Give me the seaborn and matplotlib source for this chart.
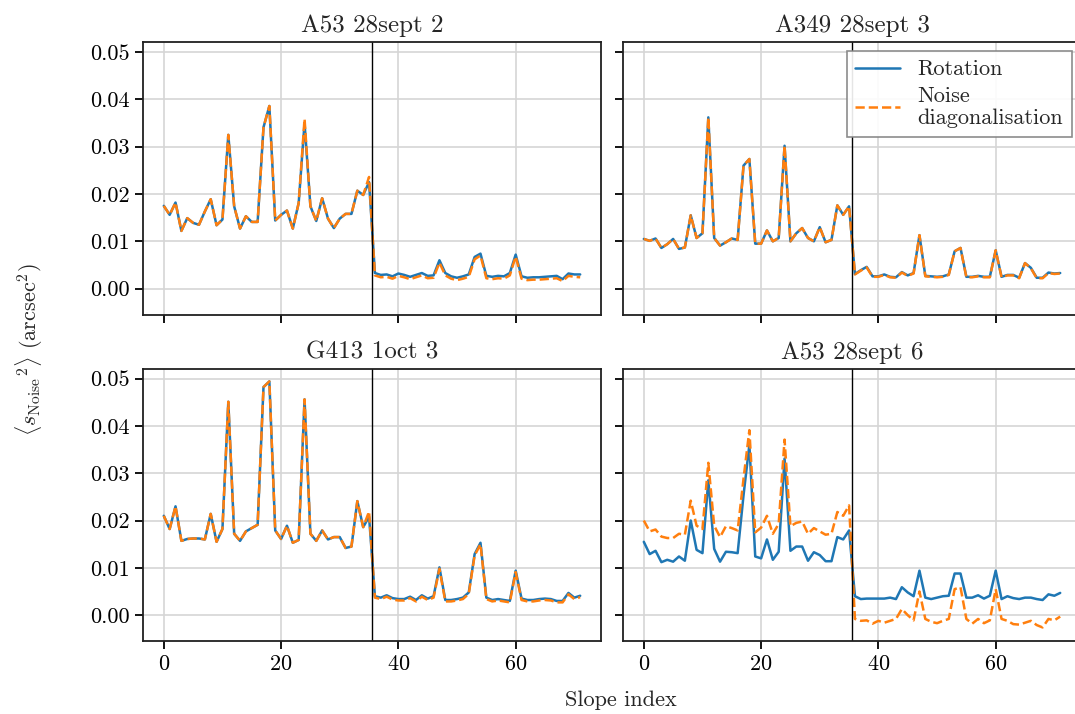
import numpy as np
import pandas as pd
import matplotlib
matplotlib.use("Agg")
import matplotlib.pyplot as plt
import seaborn as sns

# slope index 0..71
SLOPE_INDEX = list(range(72))
SPLIT_AT = 35.5

TITLES = ["A53 28sept 2", "A349 28sept 3", "G413 1oct 3", "A53 28sept 6"]
SERIES_LABELS = ["Rotation", "Noise\ndiagonalisation"]

a53_2_rotation = [
    0.0175, 0.0156, 0.0182, 0.0122, 0.0149, 0.0139, 0.0135, 0.0163, 0.0189, 0.0134,
    0.0146, 0.0325, 0.0174, 0.0127, 0.0153, 0.0141, 0.0141, 0.0341, 0.0386, 0.0144,
    0.0156, 0.0165, 0.0127, 0.0181, 0.0350, 0.0174, 0.0143, 0.0191, 0.0148, 0.0128,
    0.0148, 0.0158, 0.0158, 0.0207, 0.0198, 0.0225, 0.0033, 0.0029, 0.0030, 0.0026,
    0.0032, 0.0029, 0.0025, 0.0029, 0.0033, 0.0027, 0.0028, 0.0060, 0.0033, 0.0026,
    0.0023, 0.0026, 0.0030, 0.0067, 0.0074, 0.0027, 0.0025, 0.0027, 0.0026, 0.0033,
    0.0072, 0.0026, 0.0023, 0.0024, 0.0024, 0.0025, 0.0026, 0.0027, 0.0020, 0.0032,
    0.0030, 0.0030,
]
a53_2_noise_diag = [
    0.0175, 0.0156, 0.0182, 0.0122, 0.0149, 0.0139, 0.0135, 0.0163, 0.0189, 0.0134,
    0.0146, 0.0325, 0.0174, 0.0127, 0.0153, 0.0141, 0.0141, 0.0341, 0.0386, 0.0144,
    0.0156, 0.0165, 0.0127, 0.0181, 0.0359, 0.0174, 0.0143, 0.0191, 0.0148, 0.0128,
    0.0148, 0.0158, 0.0158, 0.0207, 0.0198, 0.0236, 0.0028, 0.0024, 0.0025, 0.0021,
    0.0027, 0.0024, 0.0020, 0.0024, 0.0028, 0.0022, 0.0023, 0.0055, 0.0028, 0.0021,
    0.0018, 0.0021, 0.0025, 0.0062, 0.0070, 0.0022, 0.0020, 0.0022, 0.0021, 0.0028,
    0.0068, 0.0021, 0.0018, 0.0019, 0.0019, 0.0020, 0.0021, 0.0022, 0.0016, 0.0027,
    0.0025, 0.0024,
]

a349_3_rotation = [
    0.0105, 0.0101, 0.0106, 0.0086, 0.0094, 0.0105, 0.0084, 0.0087, 0.0155, 0.0107,
    0.0117, 0.0362, 0.0107, 0.0091, 0.0098, 0.0106, 0.0103, 0.0260, 0.0274, 0.0095,
    0.0095, 0.0123, 0.0100, 0.0107, 0.0302, 0.0100, 0.0117, 0.0128, 0.0107, 0.0100,
    0.0130, 0.0098, 0.0103, 0.0176, 0.0156, 0.0174, 0.0031, 0.0039, 0.0046, 0.0026,
    0.0026, 0.0030, 0.0025, 0.0024, 0.0035, 0.0028, 0.0033, 0.0113, 0.0027, 0.0026,
    0.0025, 0.0026, 0.0030, 0.0079, 0.0086, 0.0025, 0.0025, 0.0027, 0.0025, 0.0025,
    0.0081, 0.0025, 0.0029, 0.0029, 0.0023, 0.0054, 0.0044, 0.0023, 0.0023, 0.0034,
    0.0032, 0.0033,
]
a349_3_noise_diag = [
    0.0105, 0.0101, 0.0106, 0.0086, 0.0094, 0.0105, 0.0084, 0.0087, 0.0155, 0.0107,
    0.0117, 0.0362, 0.0107, 0.0091, 0.0098, 0.0106, 0.0103, 0.0260, 0.0274, 0.0095,
    0.0095, 0.0123, 0.0100, 0.0107, 0.0302, 0.0100, 0.0117, 0.0128, 0.0107, 0.0100,
    0.0130, 0.0098, 0.0103, 0.0176, 0.0156, 0.0174, 0.0030, 0.0038, 0.0045, 0.0025,
    0.0025, 0.0029, 0.0024, 0.0023, 0.0034, 0.0027, 0.0032, 0.0113, 0.0026, 0.0025,
    0.0024, 0.0025, 0.0029, 0.0079, 0.0086, 0.0024, 0.0024, 0.0026, 0.0024, 0.0024,
    0.0081, 0.0024, 0.0028, 0.0028, 0.0022, 0.0054, 0.0043, 0.0022, 0.0022, 0.0033,
    0.0031, 0.0032,
]

g413_3_rotation = [
    0.0210, 0.0182, 0.0230, 0.0157, 0.0161, 0.0162, 0.0162, 0.0160, 0.0214, 0.0155,
    0.0182, 0.0451, 0.0172, 0.0157, 0.0177, 0.0184, 0.0191, 0.0482, 0.0494, 0.0179,
    0.0161, 0.0189, 0.0153, 0.0159, 0.0456, 0.0172, 0.0157, 0.0179, 0.0160, 0.0165,
    0.0165, 0.0142, 0.0145, 0.0241, 0.0186, 0.0208, 0.0040, 0.0037, 0.0042, 0.0036,
    0.0034, 0.0034, 0.0039, 0.0032, 0.0042, 0.0035, 0.0040, 0.0101, 0.0032, 0.0032,
    0.0034, 0.0037, 0.0048, 0.0129, 0.0153, 0.0037, 0.0032, 0.0034, 0.0032, 0.0030,
    0.0094, 0.0035, 0.0032, 0.0032, 0.0034, 0.0035, 0.0034, 0.0030, 0.0030, 0.0047,
    0.0037, 0.0041,
]
g413_3_noise_diag = [
    0.0210, 0.0182, 0.0230, 0.0157, 0.0161, 0.0162, 0.0162, 0.0160, 0.0214, 0.0155,
    0.0182, 0.0451, 0.0172, 0.0157, 0.0177, 0.0184, 0.0191, 0.0482, 0.0494, 0.0179,
    0.0161, 0.0189, 0.0153, 0.0159, 0.0456, 0.0172, 0.0157, 0.0179, 0.0160, 0.0165,
    0.0165, 0.0142, 0.0145, 0.0241, 0.0186, 0.0219, 0.0037, 0.0034, 0.0039, 0.0033,
    0.0031, 0.0031, 0.0036, 0.0029, 0.0039, 0.0032, 0.0037, 0.0098, 0.0029, 0.0029,
    0.0031, 0.0034, 0.0045, 0.0126, 0.0150, 0.0034, 0.0029, 0.0031, 0.0029, 0.0027,
    0.0091, 0.0032, 0.0029, 0.0029, 0.0031, 0.0032, 0.0031, 0.0027, 0.0027, 0.0044,
    0.0034, 0.0038,
]

a53_6_rotation = [
    0.0155, 0.0129, 0.0136, 0.0112, 0.0117, 0.0113, 0.0124, 0.0115, 0.0200, 0.0138,
    0.0131, 0.0285, 0.0140, 0.0113, 0.0134, 0.0133, 0.0131, 0.0253, 0.0360, 0.0124,
    0.0120, 0.0160, 0.0117, 0.0134, 0.0331, 0.0136, 0.0145, 0.0145, 0.0115, 0.0133,
    0.0127, 0.0114, 0.0114, 0.0165, 0.0160, 0.0179, 0.0040, 0.0034, 0.0035, 0.0035,
    0.0035, 0.0035, 0.0037, 0.0034, 0.0059, 0.0048, 0.0040, 0.0094, 0.0037, 0.0034,
    0.0037, 0.0040, 0.0041, 0.0088, 0.0088, 0.0037, 0.0037, 0.0042, 0.0035, 0.0041,
    0.0094, 0.0034, 0.0040, 0.0036, 0.0034, 0.0037, 0.0037, 0.0034, 0.0032, 0.0044,
    0.0041, 0.0047,
]
a53_6_noise_diag = [
    0.0200, 0.0177, 0.0181, 0.0166, 0.0163, 0.0163, 0.0172, 0.0170, 0.0242, 0.0189,
    0.0182, 0.0322, 0.0189, 0.0165, 0.0188, 0.0184, 0.0179, 0.0288, 0.0391, 0.0175,
    0.0185, 0.0210, 0.0172, 0.0193, 0.0371, 0.0188, 0.0195, 0.0198, 0.0172, 0.0184,
    0.0177, 0.0170, 0.0172, 0.0218, 0.0210, 0.0232, -0.0008, -0.0012, -0.0011, -0.0018,
    -0.0012, -0.0016, -0.0012, -0.0008, 0.0013, 0.0000, -0.0011, 0.0050, -0.0008, -0.0014,
    -0.0017, -0.0012, -0.0008, 0.0055, 0.0059, -0.0008, -0.0018, -0.0008, -0.0017, -0.0011,
    0.0055, -0.0008, -0.0012, -0.0019, -0.0020, -0.0016, -0.0012, -0.0021, -0.0026, -0.0008,
    -0.0011, -0.0003,
]

PANELS = [
    (a53_2_rotation, a53_2_noise_diag),
    (a349_3_rotation, a349_3_noise_diag),
    (g413_3_rotation, g413_3_noise_diag),
    (a53_6_rotation, a53_6_noise_diag),
]

sns.set_theme(style="ticks", context="notebook")
plt.rcParams.update({
    "font.family": "serif",
    "font.serif": ["cmr10"],
    "mathtext.fontset": "cm",
    "axes.formatter.use_mathtext": True,
    "axes.unicode_minus": False,
    "axes.grid": True,
    "grid.color": "#d5d5d5",
    "grid.linewidth": 1.2,
    "axes.edgecolor": "#202020",
    "axes.linewidth": 1.3,
    "xtick.color": "black",
    "ytick.color": "black",
    "xtick.major.size": 6,
    "ytick.major.size": 6,
    "xtick.major.width": 1.3,
    "ytick.major.width": 1.3,
    "xtick.labelsize": 16,
    "ytick.labelsize": 16,
    "axes.titlesize": 18,
})

BLUE = "#1f77b4"
ORANGE = "#ff7f0e"

fig, axes = plt.subplots(2, 2, figsize=(10.75, 7.14), dpi=100, sharex=True, sharey=True)
fig.subplots_adjust(left=0.133, right=1.0056, top=0.941, bottom=0.102,
                    wspace=0.048, hspace=0.198)

for ax, title, (rot, noise) in zip(axes.flat, TITLES, PANELS):
    sns.lineplot(x=SLOPE_INDEX, y=rot, ax=ax, color=BLUE, linewidth=1.8,
                 label=SERIES_LABELS[0])
    sns.lineplot(x=SLOPE_INDEX, y=noise, ax=ax, color=ORANGE, linewidth=1.8,
                 linestyle="--", label=SERIES_LABELS[1])
    ax.axvline(SPLIT_AT, color="black", linewidth=1.0)
    ax.set_title(title, pad=7)
    ax.set_xticks([0, 20, 40, 60])
    ax.set_yticks([0.0, 0.01, 0.02, 0.03, 0.04, 0.05])
    ax.yaxis.set_major_formatter(matplotlib.ticker.FormatStrFormatter("%.2f"))
    if ax is axes[0, 1]:
        leg = ax.legend(loc="upper right", fontsize=16, fancybox=False,
                        edgecolor="#808080", framealpha=0.9, borderaxespad=0.4,
                        handlelength=2.0, labelspacing=0.3)
        leg.get_frame().set_linewidth(1.2)
    else:
        ax.get_legend().remove()

axes[0, 0].set_xlim(-3.55, 74.55)
axes[0, 0].set_ylim(-0.0055, 0.0521)

fig.supxlabel("Slope index", fontsize=16, x=0.578, y=0.005)
fig.supylabel(r"$\langle {s_{\mathrm{Noise}}}^2 \rangle$ (arcsec$^2$)", fontsize=16,
              x=0.012, y=0.51)

plt.savefig("out.png", dpi=100)
plt.close()
